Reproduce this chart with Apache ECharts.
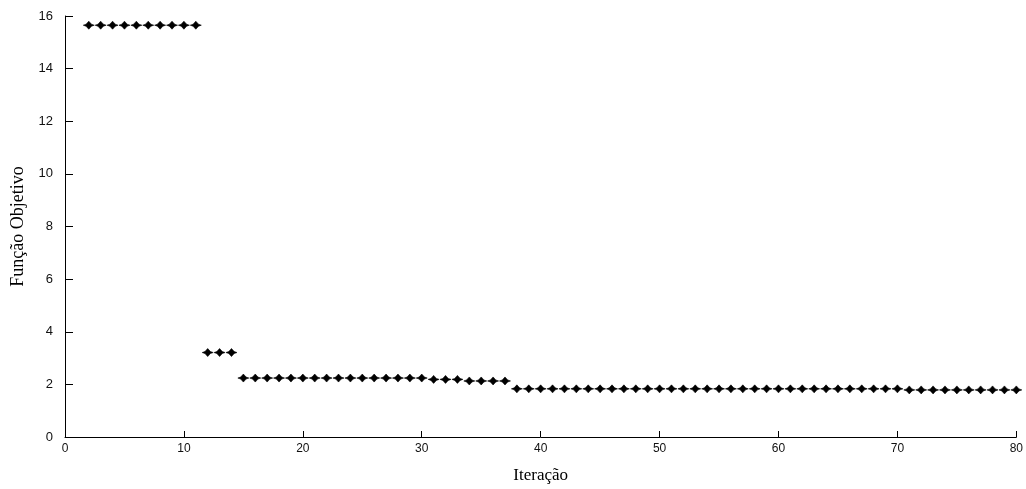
<!DOCTYPE html>
<html>
<head>
<meta charset="utf-8">
<script src="https://cdn.jsdelivr.net/npm/echarts@6/dist/echarts.min.js"></script>
<style>
  html, body { margin: 0; padding: 0; background: #fff; }
  #chart { width: 1026px; height: 489px; }
</style>
</head>
<body>
<div id="chart"></div>
<script>
// Iterations (x) and objective function values (y)
const iterations = [
  2, 3, 4, 5, 6, 7, 8, 9, 10, 11,
  12, 13, 14,
  15, 16, 17, 18, 19, 20, 21, 22, 23, 24, 25, 26, 27, 28, 29, 30,
  31, 32, 33,
  34, 35, 36, 37,
  38, 39, 40, 41, 42, 43, 44, 45, 46, 47, 48, 49, 50, 51, 52, 53, 54, 55,
  56, 57, 58, 59, 60, 61, 62, 63, 64, 65, 66, 67, 68, 69, 70,
  71, 72, 73, 74, 75, 76, 77, 78, 79, 80
];
const objective = [
  15.65, 15.65, 15.65, 15.65, 15.65, 15.65, 15.65, 15.65, 15.65, 15.65,
  3.21, 3.21, 3.21,
  2.24, 2.24, 2.24, 2.24, 2.24, 2.24, 2.24, 2.24, 2.24, 2.24, 2.24, 2.24, 2.24, 2.24, 2.24, 2.24,
  2.19, 2.19, 2.19,
  2.13, 2.13, 2.13, 2.13,
  1.83, 1.83, 1.83, 1.83, 1.83, 1.83, 1.83, 1.83, 1.83, 1.83, 1.83, 1.83, 1.83, 1.83, 1.83, 1.83, 1.83, 1.83,
  1.83, 1.83, 1.83, 1.83, 1.83, 1.83, 1.83, 1.83, 1.83, 1.83, 1.83, 1.83, 1.83, 1.83, 1.83,
  1.79, 1.79, 1.79, 1.79, 1.79, 1.79, 1.79, 1.79, 1.79, 1.79
];
const xTitle = 'Iteração';
const yTitle = 'Função Objetivo';

const points = iterations.map((x, i) => [x, objective[i]]);

const chart = echarts.init(document.getElementById('chart'), null, { renderer: 'canvas' });
chart.setOption({
  animation: false,
  backgroundColor: '#ffffff',
  grid: { left: 65, right: 7, top: 16, bottom: 46, containLabel: false },
  xAxis: {
    type: 'value', min: 0, max: 80, interval: 10,
    name: xTitle, nameLocation: 'middle', nameGap: 30,
    nameTextStyle: { fontFamily: 'Liberation Serif, Times New Roman, serif', fontSize: 17, color: '#000' },
    axisLine: { show: true, onZero: false, lineStyle: { color: '#000', width: 1 } },
    axisTick: { show: true, inside: true, length: 6, lineStyle: { color: '#000' } },
    axisLabel: { fontFamily: 'Liberation Sans Narrow, Liberation Sans, Arial, sans-serif', fontSize: 12, color: '#111', margin: 6 },
    splitLine: { show: false }
  },
  yAxis: {
    type: 'value', min: 0, max: 16, interval: 2,
    name: yTitle, nameLocation: 'middle', nameGap: 38, nameRotate: 90,
    nameTextStyle: { fontFamily: 'Liberation Serif, Times New Roman, serif', fontSize: 18, color: '#000' },
    axisLine: { show: true, lineStyle: { color: '#000', width: 1 } },
    axisTick: { show: true, inside: true, length: 8, lineStyle: { color: '#000' } },
    axisLabel: { fontFamily: 'Liberation Sans, Arial, sans-serif', fontSize: 13, color: '#111', margin: 12 },
    splitLine: { show: false }
  },
  series: [{
    type: 'scatter',
    data: points,
    symbol: 'path://M0,4 L2.8,3 L5.5,0 L8.2,3 L11,4 L8.2,5 L5.5,8 L2.8,5 Z',
    symbolSize: [11, 8],
    itemStyle: { color: '#000', borderColor: '#000', borderWidth: 0.6, opacity: 1 }
  }]
});
</script>
</body>
</html>
